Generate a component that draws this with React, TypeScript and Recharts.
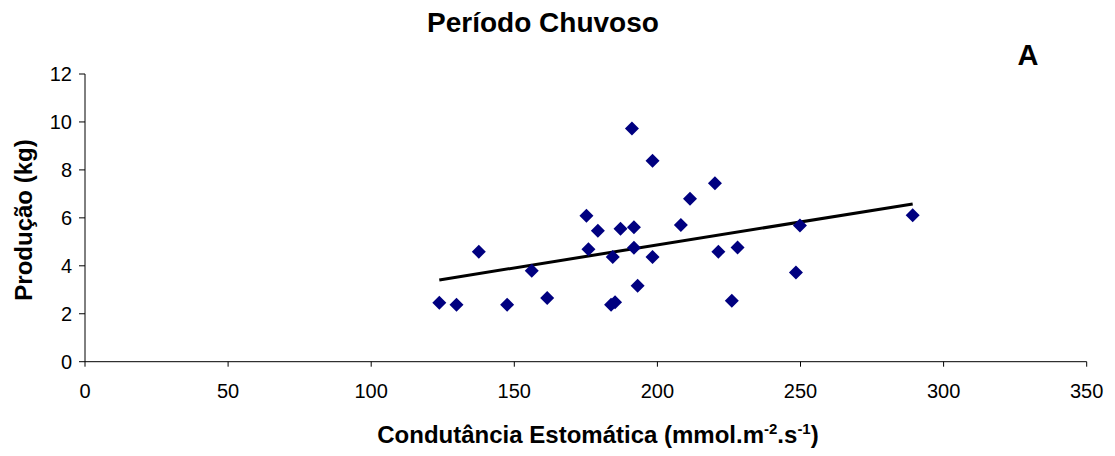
import React from "react";
import { ScatterChart, Scatter, XAxis, YAxis } from "recharts";

const condutancia = [123.8, 129.8, 137.6, 147.5, 156.1, 161.5, 175.2, 175.9, 179.2, 184.4, 183.8, 185.2, 187.1, 191.8, 191.8, 191.1, 193.1, 198.3, 198.3, 208.2, 211.4, 220.1, 221.3, 226.0, 228.0, 248.4, 249.8, 289.2];
const producao = [2.46, 2.38, 4.59, 2.38, 3.79, 2.66, 6.09, 4.69, 5.46, 4.37, 2.38, 2.48, 5.55, 5.61, 4.75, 9.73, 3.17, 8.38, 4.37, 5.70, 6.80, 7.44, 4.59, 2.54, 4.76, 3.72, 5.68, 6.11];
const trendX = [123.8, 289.2];
const trendY = [3.41, 6.58];
const xTicks = [0, 50, 100, 150, 200, 250, 300, 350];
const yTicks = [0, 2, 4, 6, 8, 10, 12];

const points = condutancia.map((x, i) => ({ x, y: producao[i] }));
const trend = trendX.map((x, i) => ({ x, y: trendY[i] }));

const Diamond = (props: any) => {
  const { cx, cy } = props;
  const h = 7;
  return (
    <polygon
      points={`${cx},${cy - h} ${cx + h},${cy} ${cx},${cy + h} ${cx - h},${cy}`}
      fill="#000080"
    />
  );
};

const NoShape = () => <g />;

const FONT = "'Liberation Sans', Arial, sans-serif";

export default function App() {
  return (
    <div style={{ position: "relative", width: 1100, height: 440, fontFamily: FONT }}>
      <ScatterChart
        width={1100}
        height={440}
        margin={{ top: 66, right: 21.3, bottom: 36.3, left: 0 }}
      >
        <XAxis
          type="number"
          dataKey="x"
          domain={[0, 350]}
          ticks={xTicks}
          interval={0}
          tickSize={5}
          tickMargin={17}
          height={50}
          stroke="#000"
          tick={{ fill: "#000", fontSize: 20, fontFamily: FONT }}
        />
        <YAxis
          type="number"
          dataKey="y"
          domain={[0, 12]}
          ticks={yTicks}
          interval={0}
          tickSize={6}
          tickMargin={7}
          width={77}
          stroke="#000"
          tick={{ fill: "#000", fontSize: 20, fontFamily: FONT }}
        />
        <Scatter
          data={trend}
          line={{ stroke: "#000", strokeWidth: 3 }}
          shape={NoShape}
          legendType="none"
          isAnimationActive={false}
        />
        <Scatter data={points} shape={Diamond} isAnimationActive={false} />
      </ScatterChart>
      <svg
        width={1100}
        height={440}
        style={{ position: "absolute", left: 0, top: 0, pointerEvents: "none" }}
      >
        <text x={535} y={24} textAnchor="middle" fontFamily={FONT} fontWeight="bold" fontSize={28} fill="#000">
          Período Chuvoso
        </text>
        <text x={1020} y={57} textAnchor="middle" fontFamily={FONT} fontWeight="bold" fontSize={29} fill="#000">
          A
        </text>
        <text x={590} y={435} textAnchor="middle" fontFamily={FONT} fontWeight="bold" fontSize={24} fill="#000">
          Condutância Estomática (mmol.m
          <tspan dy={-9} fontSize={15}>-2</tspan>
          <tspan dy={9}>.s</tspan>
          <tspan dy={-9} fontSize={15}>-1</tspan>
          <tspan dy={9}>)</tspan>
        </text>
        <text
          x={15}
          y={212}
          transform="rotate(-90 15 212)"
          textAnchor="middle"
          dominantBaseline="central"
          fontFamily={FONT}
          fontWeight="bold"
          fontSize={24}
          fill="#000"
        >
          Produção (kg)
        </text>
      </svg>
    </div>
  );
}
